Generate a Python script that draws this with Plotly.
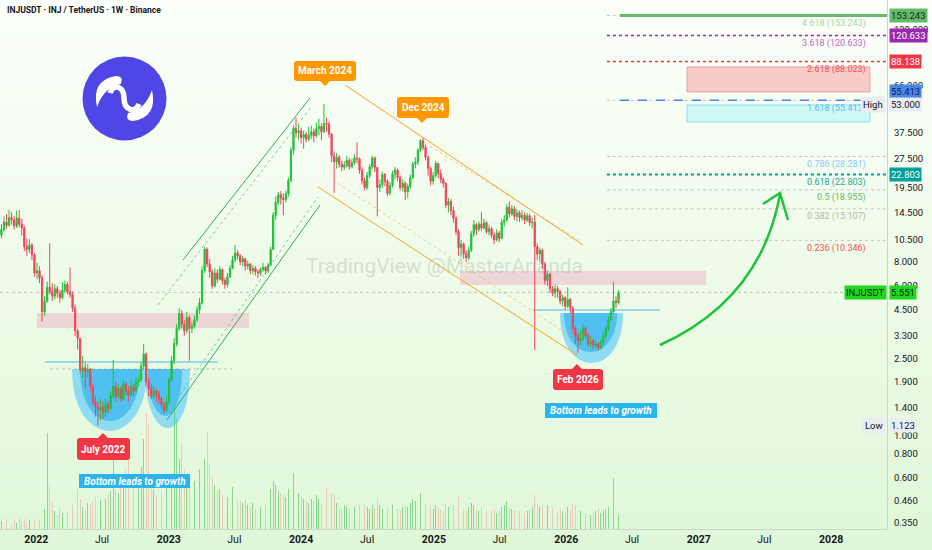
import base64, struct, zlib, math
import pandas as pd
import plotly.graph_objects as go

# ---------------- data ----------------
first_week = "2021-09-27"
first_open = 11.0

close = [
    11.8, 12.9, 12.4, 13.6, 13.2, 12.3, 13.5, 12.6, 12.0, 9.6, 9.3, 9.8, 8.7, 7.0, 7.2, 6.6,
    4.4, 5.0, 5.9, 5.6, 5.3, 5.8, 5.5, 5.2, 5.7, 6.1, 5.6, 5.4, 4.6, 3.5, 3.2, 2.2,
    2.25, 2.15, 2.2, 1.8, 1.5, 1.42, 1.36, 1.4, 1.32, 1.45, 1.38, 1.6, 1.8, 1.6, 1.75, 1.55,
    1.85, 1.7, 1.62, 1.8, 1.7, 1.9, 1.95, 2.3, 2.65, 1.9, 1.75, 1.6, 1.7, 1.65, 1.55, 1.45,
    1.35, 1.5, 1.95, 2.45, 3.0, 3.6, 4.3, 3.8, 3.5, 4.1, 3.6, 3.7, 4.0, 4.5, 4.9, 7.2,
    9.3, 7.8, 7.1, 6.0, 7.0, 6.5, 7.3, 6.4, 6.1, 6.7, 7.4, 8.2, 8.9, 8.6, 8.0, 8.3,
    7.6, 7.8, 7.2, 7.4, 7.1, 7.0, 7.3, 7.5, 7.2, 7.7, 9.3, 14.0, 16.3, 17.9, 17.2, 16.9,
    18.1, 21.3, 30.5, 39.5, 37.6, 38.5, 35.5, 36.8, 34.8, 36.5, 38.0, 36.2, 39.5, 40.5, 38.0, 42.0,
    41.8, 37.0, 28.5, 26.5, 28.0, 25.8, 24.9, 25.5, 27.0, 25.0, 26.2, 27.8, 27.5, 24.0, 21.2, 19.5,
    22.5, 25.0, 27.8, 24.8, 19.5, 20.2, 22.8, 21.0, 18.2, 20.0, 23.0, 24.0, 22.0, 19.5, 20.5, 18.5,
    19.8, 22.0, 25.8, 26.5, 30.5, 34.2, 31.5, 28.0, 24.5, 21.0, 22.5, 26.0, 23.0, 21.5, 20.5, 15.8,
    16.5, 14.8, 13.5, 11.5, 9.5, 9.9, 8.8, 8.4, 9.2, 11.2, 12.5, 11.8, 12.6, 12.0, 12.8, 11.5,
    11.9, 11.0, 10.4, 11.3, 10.6, 12.8, 13.2, 15.4, 14.2, 15.1, 13.8, 14.4, 13.6, 14.0, 13.2, 13.9,
    12.8, 12.9, 9.6, 8.8, 9.2, 7.8, 6.4, 6.9, 5.8, 5.5, 5.8, 5.6, 5.0, 5.2, 4.7, 5.1,
    4.6, 3.6, 3.3, 3.1, 3.2, 3.6, 3.3, 3.0, 3.1, 2.95, 3.0, 2.85, 3.05, 3.3, 3.6, 4.0,
    4.4, 5.0, 4.9, 5.551,
]
high = [
    12.6, 13.8, 14.2, 14.9, 14.5, 13.9, 14.8, 14.9, 13.4, 12.4, 10.6, 10.5, 10.0, 8.9, 7.9, 7.6,
    6.8, 5.3, 6.3, 10.0, 6.2, 6.1, 6.0, 5.7, 6.3, 6.4, 6.3, 7.5, 5.6, 4.8, 3.6, 3.2,
    2.6, 2.4, 2.35, 2.25, 1.85, 1.6, 1.5, 1.55, 1.5, 1.55, 1.5, 1.7, 2.47, 1.9, 1.85, 1.8,
    1.95, 1.9, 1.8, 1.92, 1.85, 2.0, 2.05, 2.4, 3.0, 2.7, 2.0, 1.85, 1.8, 1.75, 1.7, 1.6,
    1.5, 1.6, 2.0, 2.6, 3.2, 3.8, 4.6, 4.5, 4.0, 4.4, 4.2, 3.9, 4.2, 4.7, 5.2, 7.6,
    9.6, 9.5, 8.3, 7.3, 7.4, 7.3, 7.6, 7.4, 6.6, 7.0, 7.7, 8.6, 9.8, 9.2, 8.8, 8.6,
    8.4, 8.1, 7.9, 7.7, 7.6, 7.3, 7.5, 7.9, 7.6, 7.9, 9.6, 14.5, 17.5, 18.5, 18.7, 18.2,
    18.8, 22.0, 31.5, 41.0, 45.0, 41.5, 40.0, 38.5, 38.0, 40.5, 41.0, 39.5, 42.5, 44.5, 42.0, 53.0,
    45.0, 43.0, 37.5, 30.0, 29.5, 28.8, 27.0, 26.8, 28.5, 27.8, 27.5, 29.0, 33.5, 28.0, 24.8, 22.0,
    23.5, 25.8, 28.5, 28.2, 25.0, 21.5, 23.6, 23.2, 21.5, 20.8, 23.8, 24.9, 24.5, 22.5, 21.5, 21.0,
    20.5, 22.8, 26.5, 28.0, 31.2, 34.8, 35.6, 32.5, 28.5, 25.0, 23.5, 26.8, 26.2, 24.2, 22.0, 20.8,
    17.2, 17.0, 15.5, 13.8, 11.8, 10.4, 10.1, 9.2, 9.6, 11.6, 13.2, 12.8, 13.0, 14.5, 13.4, 13.0,
    12.5, 12.2, 11.4, 11.8, 11.6, 13.4, 14.0, 16.0, 16.5, 15.8, 15.6, 15.0, 14.8, 14.9, 14.5, 14.4,
    14.2, 13.6, 14.0, 10.0, 9.5, 9.4, 8.0, 7.2, 7.0, 6.0, 6.1, 6.0, 5.7, 5.4, 5.3, 5.9,
    5.2, 4.7, 3.7, 3.4, 3.5, 3.8, 3.7, 3.4, 3.3, 3.2, 3.15, 3.05, 3.15, 3.45, 3.7, 4.15,
    4.6, 6.3, 5.3, 5.7,
]
low = [
    10.6, 11.5, 11.9, 12.2, 12.5, 11.8, 12.0, 12.1, 11.0, 9.1, 8.6, 8.9, 8.2, 6.7, 6.5, 6.2,
    3.9, 4.2, 4.9, 5.4, 5.0, 5.1, 5.2, 4.9, 5.1, 5.5, 5.4, 5.2, 4.4, 3.3, 2.8, 2.1,
    2.0, 1.75, 2.0, 1.7, 1.45, 1.25, 1.123, 1.2, 1.22, 1.25, 1.3, 1.35, 1.55, 1.5, 1.55, 1.5,
    1.52, 1.62, 1.5, 1.58, 1.6, 1.65, 1.8, 1.9, 2.2, 1.8, 1.6, 1.55, 1.55, 1.5, 1.45, 1.38,
    1.3, 1.32, 1.45, 1.9, 2.35, 2.9, 3.5, 3.6, 3.3, 3.4, 2.45, 3.4, 3.6, 3.9, 4.3, 4.8,
    7.0, 7.5, 6.6, 5.8, 5.9, 6.2, 6.4, 6.1, 5.8, 5.9, 6.6, 7.3, 8.0, 8.2, 7.7, 7.6,
    7.2, 7.3, 6.9, 6.9, 6.8, 6.6, 6.8, 7.1, 6.9, 7.0, 7.6, 9.2, 13.2, 15.8, 15.9, 14.0,
    16.3, 17.5, 20.8, 29.0, 35.5, 34.5, 33.0, 31.0, 33.5, 34.0, 34.8, 33.5, 35.5, 36.5, 34.5, 37.5,
    38.0, 35.5, 26.5, 18.3, 24.5, 24.8, 23.8, 24.0, 24.8, 24.2, 24.5, 25.6, 26.0, 23.0, 20.2, 18.8,
    19.0, 21.8, 24.2, 23.5, 13.8, 18.5, 19.5, 19.8, 17.6, 17.8, 19.5, 21.5, 21.0, 18.8, 18.6, 16.8,
    17.2, 19.2, 21.5, 24.5, 25.5, 30.0, 30.5, 27.0, 22.5, 20.0, 20.2, 22.0, 21.8, 20.5, 19.5, 15.2,
    14.5, 14.0, 12.8, 11.0, 8.6, 8.5, 8.3, 8.0, 8.2, 9.0, 10.8, 11.0, 11.5, 11.6, 11.8, 11.2,
    11.0, 10.6, 9.9, 10.2, 10.1, 10.5, 12.2, 12.9, 13.6, 13.9, 13.2, 13.0, 12.9, 13.1, 12.6, 12.9,
    12.3, 12.0, 2.78, 8.2, 8.0, 7.3, 6.1, 6.0, 5.5, 5.3, 5.2, 5.2, 4.8, 4.7, 4.5, 4.6,
    4.3, 3.4, 3.0, 2.7, 2.95, 3.1, 3.2, 2.9, 2.85, 2.8, 2.85, 2.75, 2.8, 2.95, 3.2, 3.5,
    3.9, 4.3, 4.6, 4.8,
]
volume = [
    8, 6, 10, 7, 5, 9, 6, 12, 8, 10, 7, 9, 6, 8, 10, 9,
    14, 20, 96, 44, 27, 18, 14, 22, 16, 12, 18, 20, 24, 22, 40, 30,
    22, 18, 26, 24, 28, 32, 20, 29, 22, 30, 34, 38, 69, 40, 36, 42,
    45, 60, 70, 52, 48, 40, 50, 62, 90, 116, 105, 48, 39, 34, 30, 36,
    42, 48, 55, 45, 125, 110, 70, 86, 60, 55, 50, 79, 48, 52, 60, 89,
    70, 97, 65, 52, 44, 38, 40, 34, 30, 32, 36, 42, 38, 30, 28, 26,
    30, 24, 22, 26, 20, 24, 22, 28, 26, 30, 40, 48, 44, 38, 36, 34,
    32, 40, 48, 56, 44, 36, 32, 30, 28, 26, 30, 28, 34, 30, 26, 38,
    42, 30, 36, 34, 26, 22, 20, 24, 22, 20, 24, 22, 26, 24, 28, 26,
    22, 20, 24, 22, 30, 24, 20, 18, 22, 20, 24, 22, 20, 18, 22, 24,
    22, 26, 30, 28, 32, 36, 30, 26, 28, 22, 20, 24, 22, 20, 18, 26,
    22, 20, 24, 26, 32, 24, 20, 18, 22, 26, 24, 20, 18, 22, 20, 18,
    16, 18, 20, 16, 18, 22, 24, 28, 22, 20, 18, 16, 18, 20, 16, 18,
    20, 22, 34, 26, 22, 24, 28, 24, 20, 22, 18, 16, 20, 18, 16, 22,
    20, 26, 24, 22, 18, 20, 16, 18, 14, 16, 18, 20, 16, 18, 20, 22,
    24, 51, 36, 14,
]

fib_ratio = ["4.618", "3.618", "2.618", "1.618", "0.786", "0.618", "0.5", "0.382", "0.236"]
fib_price = [153.243, 120.633, 88.023, 55.413, 28.281, 22.803, 18.955, 15.107, 10.346]
fib_text_color = ["#a5d6a7", "#ba68c8", "#ef5350", "#64b5f6", "#90caf9", "#26a69a", "#66bb6a", "#a9bfa6", "#ef5350"]

marked_price = [153.243, 120.633, 88.138, 55.413, 22.803]
marked_color = ["#66bb6a", "#9c27b0", "#f23645", "#4a86e8", "#00a19a"]
marked_text = ["#0d2e10", "#ffffff", "#ffffff", "#0d1d4a", "#ffffff"]

last_price = 5.551
high_price = 53.0
low_price = 1.123

y_ticks = [0.35, 0.46, 0.6, 0.8, 1.0, 1.4, 1.9, 2.5, 3.3, 4.5, 6.0, 8.0, 10.5, 14.5, 19.5, 27.5, 37.5, 66.0, 130.0, 180.0]
x_tick_dates = ["2022-01-01", "2022-07-01", "2023-01-01", "2023-07-01", "2024-01-01", "2024-07-01",
                "2025-01-01", "2025-07-01", "2026-01-01", "2026-07-01", "2027-01-01", "2027-07-01", "2028-01-01"]
x_tick_text = ["2022", "Jul", "2023", "Jul", "2024", "Jul", "2025", "Jul", "2026", "Jul", "2027", "Jul", "2028"]

x_range = ["2021-09-23", "2028-06-03"]
y_range = [0.326, 184.4]
fib_start = "2026-04-23"
fib_main_start = "2026-05-29"

# ---------------- geometry helpers ----------------
W, H = 932, 550
ML, MR, MT, MB = 0, 45, 0, 21
PW, PH = W - ML - MR, H - MT - MB

def px(x):
    return (x - ML) / PW

def py(y):
    return 1 - (y - MT) / PH

def P(x, y):
    return f"{px(x):.5f},{py(y):.5f}"

def gradient_png(top, bottom, n=256):
    raw = b""
    for i in range(n):
        t = i / (n - 1)
        c = bytes(int(round(top[k] + (bottom[k] - top[k]) * t)) for k in range(3))
        raw += b"\x00" + c
    def chunk(tag, data):
        return struct.pack(">I", len(data)) + tag + data + struct.pack(">I", zlib.crc32(tag + data) & 0xffffffff)
    png = (b"\x89PNG\r\n\x1a\n" + chunk(b"IHDR", struct.pack(">IIBBBBB", 1, n, 8, 2, 0, 0, 0))
           + chunk(b"IDAT", zlib.compress(raw)) + chunk(b"IEND", b""))
    return "data:image/png;base64," + base64.b64encode(png).decode()

def bubble(x0, y0, x1, y1, r=3, tip=None):
    d = f"M {P(x0 + r, y0)} "
    if tip and tip[0] == "up":
        tx, s = tip[1], tip[2]
        d += f"L {P(tx - s, y0)} L {P(tx, y0 - s)} L {P(tx + s, y0)} "
    d += f"L {P(x1 - r, y0)} Q {P(x1, y0)} {P(x1, y0 + r)} L {P(x1, y1 - r)} Q {P(x1, y1)} {P(x1 - r, y1)} "
    if tip and tip[0] == "down":
        tx, s = tip[1], tip[2]
        d += f"L {P(tx + s, y1)} L {P(tx, y1 + s)} L {P(tx - s, y1)} "
    d += f"L {P(x0 + r, y1)} Q {P(x0, y1)} {P(x0, y1 - r)} L {P(x0, y0 + r)} Q {P(x0, y0)} {P(x0 + r, y0)} Z"
    return d

def bowl(x1, x2, yt, yb):
    c = (4 * yb - yt) / 3
    return f"M {P(x1, yt)} C {P(x1, c)} {P(x2, c)} {P(x2, yt)} Z"

# ---------------- figure ----------------
dates = pd.date_range(first_week, periods=len(close), freq="7D")
opens = [first_open] + close[:-1]
INC, DEC = "#22c03a", "#f0455a"
vol_colors = ["rgba(60,190,80,0.55)" if c >= o else "rgba(235,170,150,0.55)" for o, c in zip(opens, close)]

fig = go.Figure()
fig.add_trace(go.Bar(x=dates, y=volume, marker=dict(color=vol_colors, line=dict(width=0)),
                     width=2.2 * 86400000, yaxis="y", hoverinfo="skip", showlegend=False))
fig.add_trace(go.Candlestick(x=dates, open=opens, high=high, low=low, close=close, yaxis="y2",
                             increasing=dict(line=dict(color=INC, width=1), fillcolor=INC),
                             decreasing=dict(line=dict(color=DEC, width=1), fillcolor=DEC),
                             whiskerwidth=0, showlegend=False))

shapes = []
ann = []

def pline(x0, y0, x1, y1, color, width=1, dash="solid", layer="above"):
    shapes.append(dict(type="line", xref="paper", yref="paper", x0=px(x0), y0=py(y0), x1=px(x1), y1=py(y1),
                       line=dict(color=color, width=width, dash=dash), layer=layer))

def ppath(d, fill=None, color=None, width=0, layer="above", opacity=1):
    s = dict(type="path", xref="paper", yref="paper", path=d, layer=layer, opacity=opacity,
             line=dict(color=color or "rgba(0,0,0,0)", width=width))
    if fill:
        s["fillcolor"] = fill
    shapes.append(s)

def ptext(x, y, text, size=10, color="#ffffff", bold=True, italic=False, xanchor="center", family="Roboto"):
    t = text
    if bold:
        t = f"<b>{t}</b>"
    if italic:
        t = f"<i>{t}</i>"
    ann.append(dict(x=px(x), y=py(y), xref="paper", yref="paper", text=t, showarrow=False,
                    xanchor=xanchor, yanchor="middle", font=dict(size=size, color=color, family=family)))

# pink resistance zones
ppath(f"M {P(37,313)} L {P(249,313)} L {P(249,328)} L {P(37,328)} Z", fill="rgba(236,120,170,0.28)", layer="below")
ppath(f"M {P(460,271)} L {P(706,271)} L {P(706,285)} L {P(460,285)} Z", fill="rgba(236,120,170,0.28)", layer="below")

# cups
ppath(bowl(72, 147, 369, 431), fill="#8edcf2", layer="below")
ppath(bowl(145, 190, 369, 428), fill="#8edcf2", layer="below")
ppath(bowl(80, 140, 369, 421), fill="#4fc0ef", layer="below")
ppath(bowl(148, 182, 369, 416), fill="#4fc0ef", layer="below")
ppath(bowl(560, 623, 313, 363), fill="#8edcf2", layer="below")
ppath(bowl(564, 617, 313, 352), fill="#4fc0ef", layer="below")
pline(45, 362, 218, 362, "#4fb8e8", 1.2, layer="below")
pline(50, 369, 232, 369, "rgba(120,130,120,0.45)", 1, "dot", layer="below")
pline(533, 310, 660, 310, "#4fb8e8", 1.2, layer="below")

# current price dotted line
shapes.append(dict(type="line", xref="paper", yref="y2", x0=0, x1=1, y0=last_price, y1=last_price,
                   line=dict(color="rgba(120,135,120,0.45)", width=1, dash="dot"), layer="below"))

# green rising channel
pline(183, 260, 310, 98, "#2fae55", 1)
pline(158, 305, 312, 106, "rgba(47,174,85,0.6)", 1, "dot")
pline(167, 420, 320, 205, "#2fae55", 1)
pline(180, 395, 318, 197, "rgba(47,174,85,0.6)", 1, "dot")

# orange falling channel
pline(345, 85, 583, 245, "#f5a623", 1)
pline(430, 146, 580, 241, "rgba(245,166,35,0.6)", 1, "dot")
pline(318, 187, 577, 355, "#f5a623", 1)
pline(333, 180, 572, 337, "rgba(245,166,35,0.6)", 1, "dot")

# fibonacci levels
for i, (r, p) in enumerate(zip(fib_ratio, fib_price)):
    shapes.append(dict(type="line", xref="x", yref="y2", x0=fib_start, x1=x_range[1], y0=p, y1=p,
                       line=dict(color="rgba(130,140,130,0.45)", width=1, dash="dot"), layer="below"))
    ann.append(dict(x=px(868), xref="paper", y=math.log10(p), yref="y2", text=f"{r} ({p:.3f})",
                    showarrow=False, xanchor="right", yanchor="middle", yshift=-8,
                    font=dict(size=9, color=fib_text_color[i], family="Roboto")))

styles = [("solid", 3, fib_main_start), ("dot", 1.5, fib_start), ("dot", 1.5, fib_start),
          ("dash", 1.5, fib_main_start), ("dot", 2, fib_start)]
for p, col, (dash, wd, st) in zip(marked_price, marked_color, styles):
    shapes.append(dict(type="line", xref="x", yref="y2", x0=st, x1=x_range[1], y0=p, y1=p,
                       line=dict(color=col, width=wd, dash=dash), layer="above"))

# target boxes
ppath(f"M {P(687,67)} L {P(870,67)} L {P(870,92)} L {P(687,92)} Z", fill="rgba(242,54,69,0.25)",
      color="rgba(242,54,69,0.4)", width=1, layer="below")
ppath(f"M {P(687,105)} L {P(870,105)} L {P(870,122)} L {P(687,122)} Z", fill="rgba(0,229,255,0.16)",
      color="rgba(0,190,230,0.4)", width=1, layer="below")

# green arrow
ppath(f"M {P(660,345)} Q {P(760,300)} {P(780,195)}", color="#1ec23b", width=2.5)
ppath(f"M {P(763,204)} L {P(780,193)} L {P(788,220)}", color="#1ec23b", width=2.5)

# callouts
ppath(bubble(77, 438, 130, 460, 3, ("up", 103, 5)), fill="#f23645")
ptext(103.5, 449, "July 2022", 10)
ppath(bubble(294, 61, 356, 81, 3, ("down", 325, 5)), fill="#ff9800")
ptext(325, 71, "March 2024", 10)
ppath(bubble(397, 97, 449, 118, 3, ("down", 422, 5)), fill="#ff9800")
ptext(423, 107.5, "Dec 2024", 10)
ppath(bubble(553, 369, 603, 390, 3, ("up", 577, 5)), fill="#f23645")
ptext(578, 379.5, "Feb 2026", 10)
ppath(f"M {P(79,474)} L {P(190,474)} L {P(190,488)} L {P(79,488)} Z", fill="#2bb5ee")
ptext(134.5, 481, "Bottom leads to growth", 10, italic=True)
ppath(f"M {P(545,403)} L {P(657,403)} L {P(657,418)} L {P(545,418)} Z", fill="#2bb5ee")
ptext(601, 410.5, "Bottom leads to growth", 10, italic=True)

# logo (Injective mark)
shapes.append(dict(type="circle", xref="paper", yref="paper", x0=px(82.5), x1=px(166.5), y0=py(56.5), y1=py(140.5),
                   fillcolor="#4f46e5", line=dict(width=0), layer="above"))
ppath(f"M {P(97,107)} Q {P(91,80)} {P(116,76)} Q {P(124,76)} {P(121,84)} Q {P(104,87)} {P(97,107)} Z", fill="#ffffff")
ppath(f"M {P(152,90)} Q {P(158,117)} {P(133,121)} Q {P(125,121)} {P(128,113)} Q {P(145,110)} {P(152,90)} Z", fill="#ffffff")
ppath(f"M {P(110,93)} C {P(113,83)} {P(124,86)} {P(124,98)} C {P(124,110)} {P(135,114)} {P(139,104)}",
      color="#ffffff", width=5.5)

# watermark + title
ptext(444, 266, "TradingView @MasterAnanda", 21, color="rgba(140,150,140,0.28)", bold=False)
ptext(5, 10, "INJUSDT · INJ / TetherUS · 1W · Binance", 8.5, color="#131722", xanchor="left")

# right-axis price labels
label_shift = [0, 0, 0, 9, 0]
for p, bg, fg, ys in zip(marked_price, marked_color, marked_text, label_shift):
    ann.append(dict(x=1, xref="paper", y=math.log10(p), yref="y2", text=f"{p:.3f}", showarrow=False,
                    xanchor="left", yanchor="middle", xshift=2, yshift=ys, bgcolor=bg, borderpad=1,
                    font=dict(size=9.5, color=fg, family="Roboto")))
ann.append(dict(x=1, xref="paper", y=math.log10(last_price), yref="y2", text=f"{last_price:.3f}", showarrow=False,
                xanchor="left", yanchor="middle", xshift=2, bgcolor="#1fd81f", borderpad=1,
                font=dict(size=9.5, color="#0b2e0b", family="Roboto")))
ann.append(dict(x=1, xref="paper", y=math.log10(last_price), yref="y2", text="INJUSDT", showarrow=False,
                xanchor="right", yanchor="middle", xshift=0, bgcolor="#1fd81f", borderpad=1,
                font=dict(size=9.5, color="#0b2e0b", family="Roboto")))
for p, tag in [(high_price, "High"), (low_price, "Low")]:
    ann.append(dict(x=1, xref="paper", y=math.log10(p), yref="y2", text=f"{p:.3f}", showarrow=False,
                    xanchor="left", yanchor="middle", xshift=2, bgcolor="#e8edf4", borderpad=1,
                    font=dict(size=9.5, color="#131722", family="Roboto")))
    ann.append(dict(x=1, xref="paper", y=math.log10(p), yref="y2", text=tag, showarrow=False,
                    xanchor="right", yanchor="middle", xshift=-1, bgcolor="#e8edf4", borderpad=2,
                    font=dict(size=9.5, color="#131722", family="Roboto")))

fig.update_layout(
    width=W, height=H,
    margin=dict(l=ML, r=MR, t=MT, b=MB),
    paper_bgcolor="#ffffff", plot_bgcolor="rgba(0,0,0,0)",
    showlegend=False, bargap=0,
    images=[dict(source=gradient_png((252, 255, 250), (224, 247, 216)), xref="paper", yref="paper",
                 x=0, y=1, sizex=W / PW, sizey=H / PH, xanchor="left", yanchor="top",
                 sizing="stretch", layer="below")],
    xaxis=dict(type="date", range=x_range, rangeslider=dict(visible=False), showgrid=False, zeroline=False,
               tickvals=x_tick_dates,
               ticktext=[f"<b>{t}</b>" if t != "Jul" else t for t in x_tick_text],
               tickfont=dict(size=10.5, color="#131722", family="Roboto"),
               showline=True, linecolor="#c9d6c6", linewidth=1, ticks=""),
    yaxis=dict(range=[0, PH], visible=False, fixedrange=True),
    yaxis2=dict(type="log", overlaying="y", side="right", range=[math.log10(y_range[0]), math.log10(y_range[1])],
                tickvals=y_ticks, ticktext=[f"{v:.3f}" for v in y_ticks],
                tickfont=dict(size=9.5, color="#131722", family="Roboto"),
                showgrid=False, zeroline=False, showline=True, linecolor="#c9d6c6", linewidth=1,
                ticks="", ticklabelstandoff=4),
    shapes=shapes, annotations=ann,
)

fig.write_html("out.html", config={"displayModeBar": False},
               post_script="document.body.style.margin='0';document.body.style.overflow='hidden';")
